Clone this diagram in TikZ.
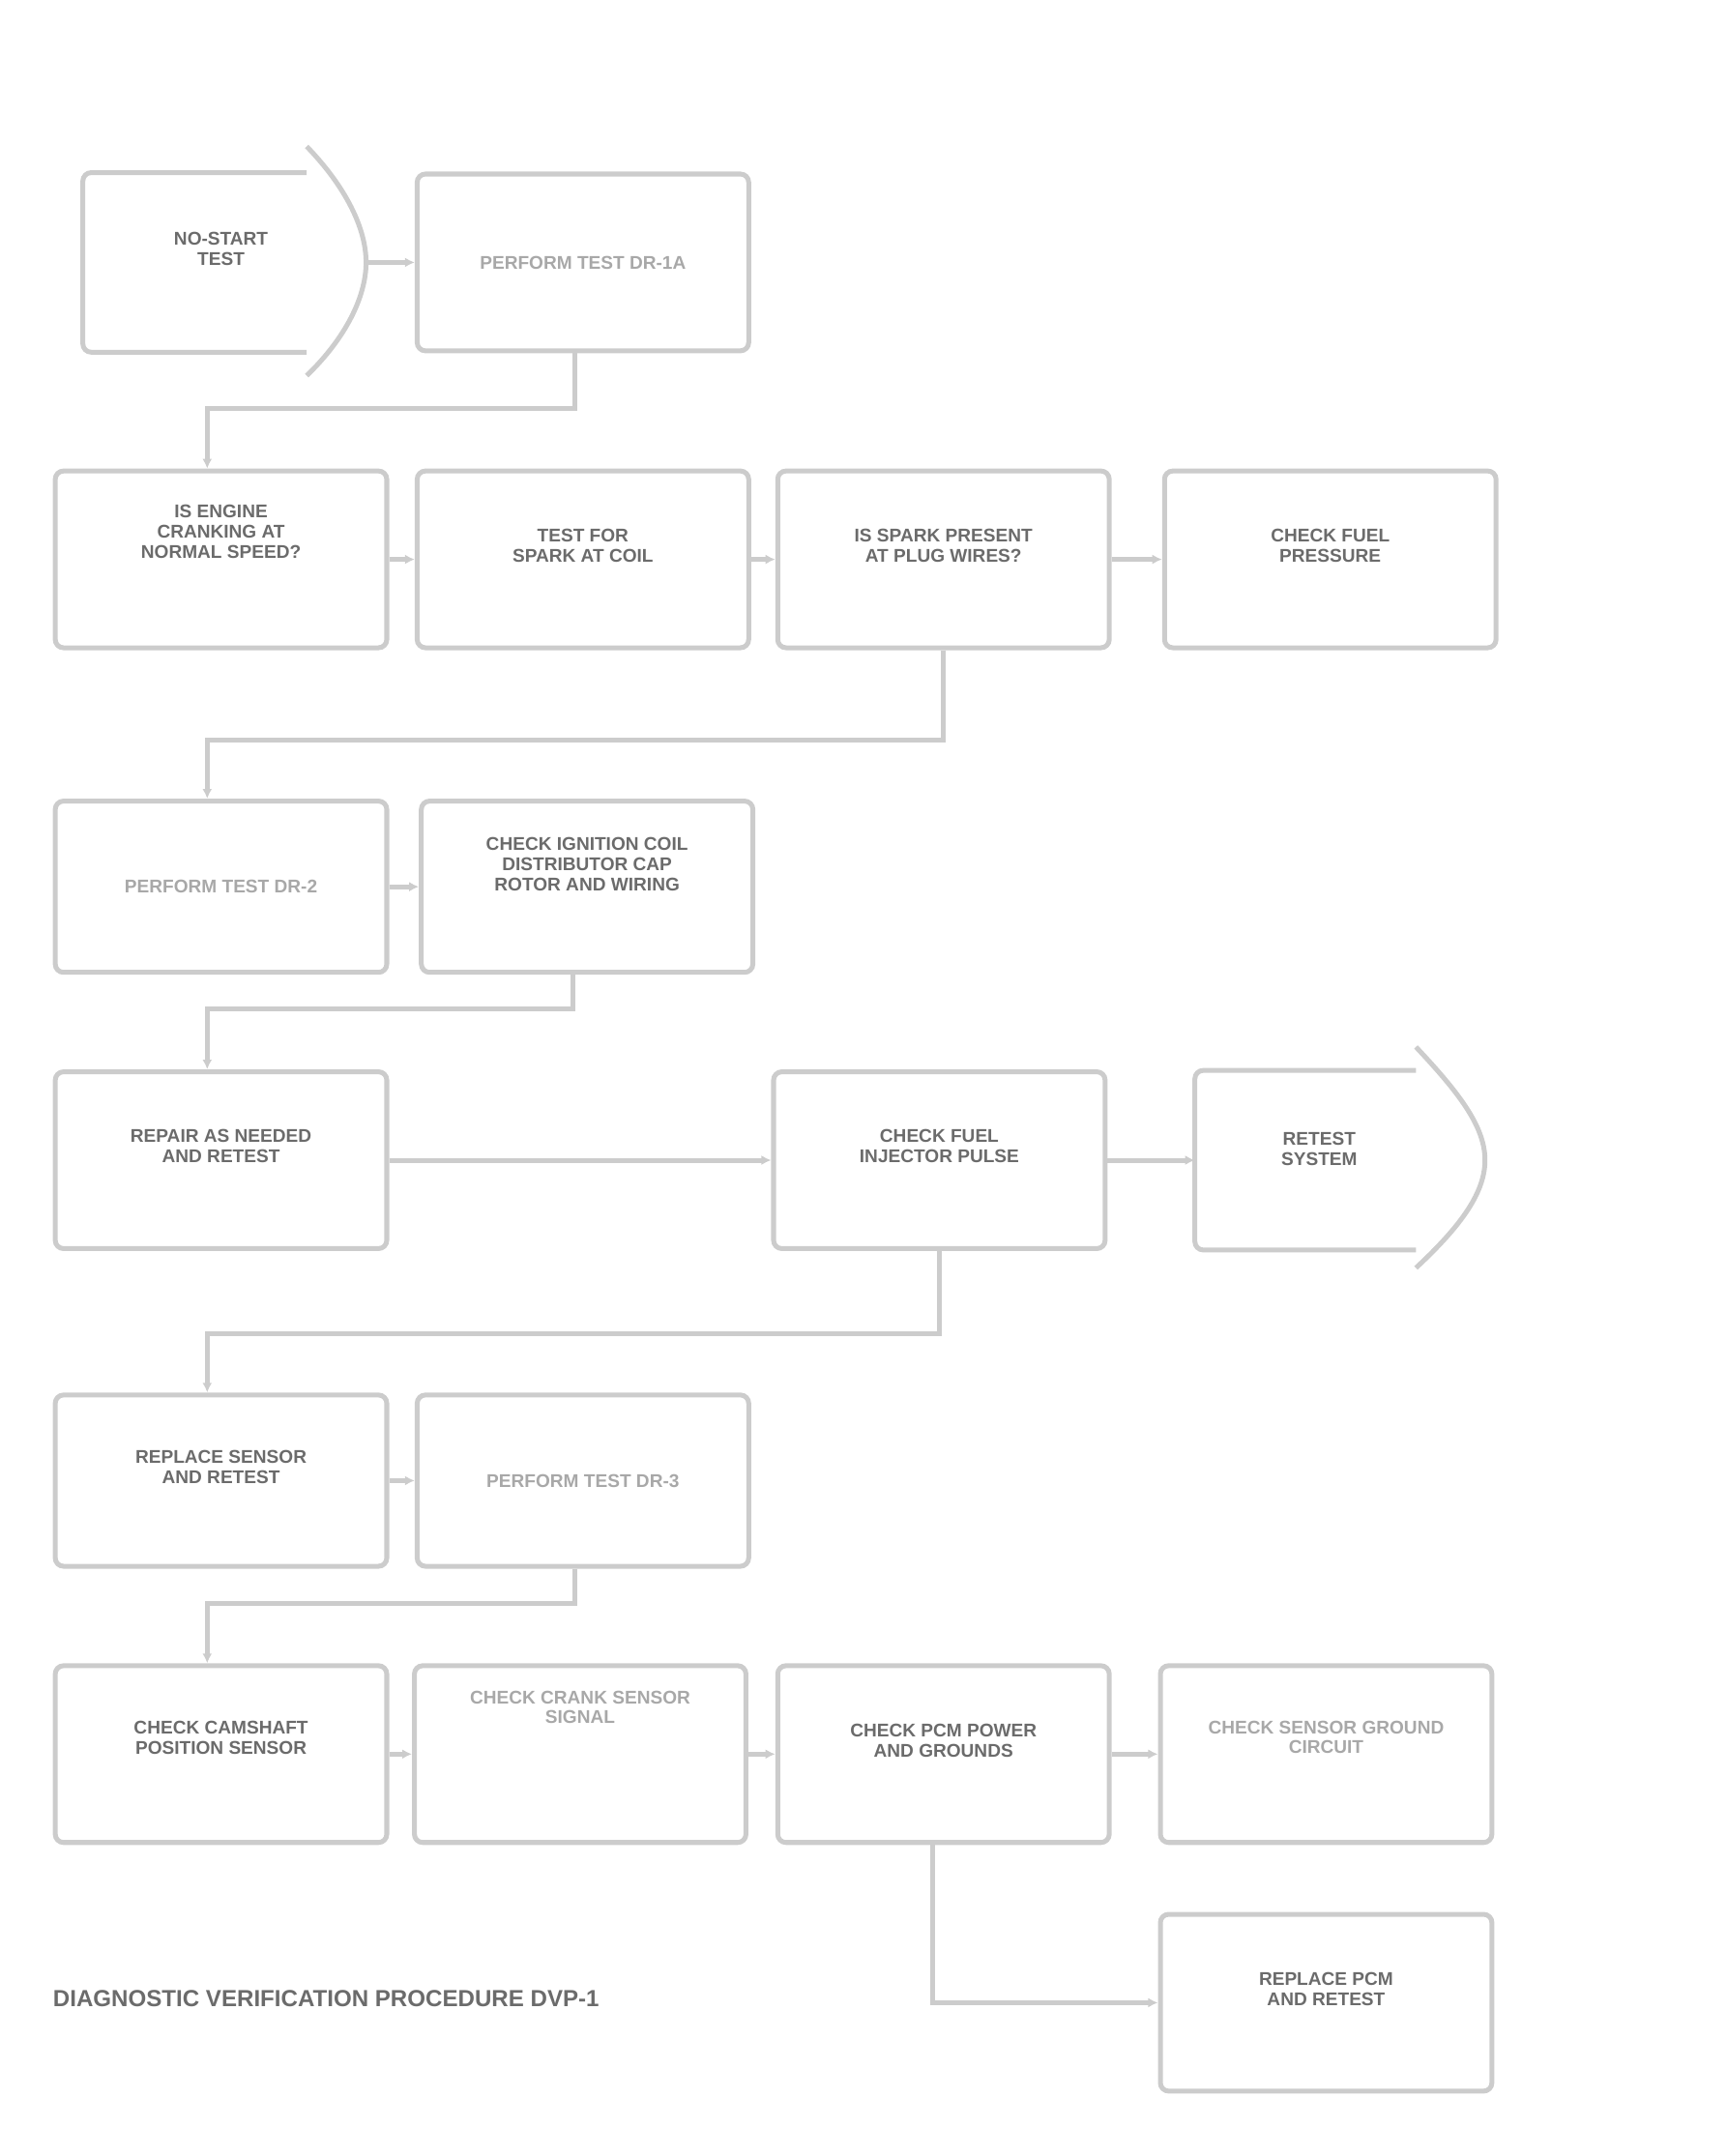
\documentclass[tikz,border=0pt]{standalone}
\usepackage{fontspec}
\setmainfont{Liberation Sans}
\usetikzlibrary{arrows.meta}
\definecolor{linegray}{gray}{0.80}
\definecolor{txtgray}{gray}{0.42}
\definecolor{lighttxt}{gray}{0.66}
\begin{document}
\begin{tikzpicture}[x=0.5mm,y=-0.5mm,
  box/.style={draw=linegray, line width=5pt, rounded corners=3mm,
    minimum width=120mm, minimum height=64mm, inner sep=0pt},
  txt/.style={text=txtgray, font=\bfseries\fontsize{19}{21}\selectfont, align=center},
  small/.style={text=lighttxt, font=\bfseries\fontsize{19}{20}\selectfont, align=center},
  link/.style={draw=linegray, line width=5pt},
  arr/.style={link, -{Latex[length=10pt,width=10pt]}}]
\useasboundingbox (0,0) rectangle (1250,1561);

% ---- row 1
\draw[link, rounded corners=3mm] (222,125) -- (60,125) -- (60,255) -- (222,255);
\draw[link] (222,106) .. controls (250,135) and (265,165) .. (265,190) .. controls (265,215) and (250,245) .. (222,272);
\coordinate (Atip) at (265,190);
\coordinate (Kleft) at (865,840);
\node[txt] (A) at (160,180) {NO-START\\TEST};
\node[box] (B) at (422,190) {};
\node[small] (Bt) at (B.center) {PERFORM TEST DR-1A};

% ---- row 2
\node[box] (C) at (160,405) {};
\node[box] (D) at (422,405) {};
\node[box] (E) at (683,405) {};
\node[box] (F) at (963,405) {};
\node[txt] (Ct) at ([yshift=10mm]C.center) {IS ENGINE\\CRANKING AT\\NORMAL SPEED?};
\node[txt] (Dt) at ([yshift=5mm]D.center) {TEST FOR\\SPARK AT COIL};
\node[txt] (Et) at ([yshift=5mm]E.center) {IS SPARK PRESENT\\AT PLUG WIRES?};
\node[txt] (Ft) at ([yshift=5mm]F.center) {CHECK FUEL\\PRESSURE};

% ---- row 3
\node[box, minimum height=62mm] (G) at (160,642) {};
\node[box, minimum height=62mm] (H) at (425,642) {};
\node[small] (Gt) at (G.center) {PERFORM TEST DR-2};
\node[txt] (Ht) at ([yshift=8mm]H.center) {CHECK IGNITION COIL\\DISTRIBUTOR CAP\\ROTOR AND WIRING};

% ---- row 4
\node[box] (I) at (160,840) {};
\node[box] (J) at (680,840) {};
\node[txt] (It) at ([yshift=5mm]I.center) {REPAIR AS NEEDED\\AND RETEST};
\node[txt] (Jt) at ([yshift=5mm]J.center) {CHECK FUEL\\INJECTOR PULSE};
\draw[link, rounded corners=3mm] (1025,775) -- (865,775) -- (865,905) -- (1025,905);
\draw[link] (1025,758) .. controls (1055,790) and (1075,815) .. (1075,840) .. controls (1075,865) and (1055,890) .. (1025,918);
\node[txt] (K) at (955,832) {RETEST\\SYSTEM};

% ---- row 5
\node[box, minimum height=62mm] (L) at (160,1072) {};
\node[box, minimum height=62mm] (M) at (422,1072) {};
\node[txt] (Lt) at ([yshift=5mm]L.center) {REPLACE SENSOR\\AND RETEST};
\node[small] (Mt) at (M.center) {PERFORM TEST DR-3};

% ---- row 6
\node[box] (N) at (160,1270) {};
\node[box] (O) at (420,1270) {};
\node[box] (P) at (683,1270) {};
\node[box] (Q) at (960,1270) {};
\node[box] (R) at (960,1450) {};
\node[txt] (Nt) at ([yshift=6mm]N.center) {CHECK CAMSHAFT\\POSITION SENSOR};
\node[small] (Ot) at ([yshift=17mm]O.center) {CHECK CRANK SENSOR\\SIGNAL};
\node[txt] (Pt) at ([yshift=5mm]P.center) {CHECK PCM POWER\\AND GROUNDS};
\node[small] (Qt) at ([yshift=6mm]Q.center) {CHECK SENSOR GROUND\\CIRCUIT};
\node[txt] (Rt) at ([yshift=5mm]R.center) {REPLACE PCM\\AND RETEST};

% caption
\node[txt, anchor=west, font=\bfseries\fontsize{24}{26}\selectfont] (cap) at (36,1447) {DIAGNOSTIC VERIFICATION PROCEDURE DVP-1};

% ---- connectors
\draw[arr] (Atip) -- (B.west);
\draw[arr] ([xshift=-3mm]B.south) -- ++(0,40) -| ([xshift=-5mm]C.north);
\draw[arr] (C.east) -- (D.west);
\draw[arr] (D.east) -- (E.west);
\draw[arr] (E.east) -- (F.west);
\draw[arr] (E.south) -- ++(0,65) -| ([xshift=-5mm]G.north);
\draw[arr] (G.east) -- (H.west);
\draw[arr] ([xshift=-5mm]H.south) -- ++(0,25) -| ([xshift=-5mm]I.north);
\draw[arr] (I.east) -- (J.west);
\draw[arr] (J.east) -- (Kleft);
\draw[arr] (J.south) -- ++(0,60) -| ([xshift=-5mm]L.north);
\draw[arr] (L.east) -- (M.west);
\draw[arr] ([xshift=-3mm]M.south) -- ++(0,25) -| ([xshift=-5mm]N.north);
\draw[arr] (N.east) -- (O.west);
\draw[arr] (O.east) -- (P.west);
\draw[arr] (P.east) -- (Q.west);
\draw[arr] ([xshift=-4mm]P.south) |- (R.west);
\end{tikzpicture}
\end{document}
